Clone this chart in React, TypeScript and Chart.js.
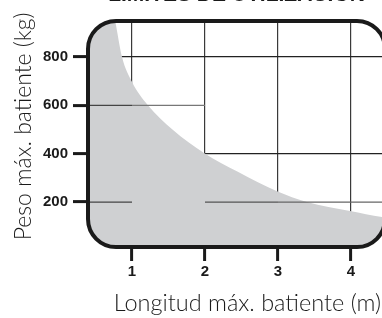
import React, { useEffect, useRef } from "react";
import { Chart, registerables } from "chart.js";

Chart.register(...registerables);

// ---- data ----
const CHART_TITLE = "LIMITES DE UTILIZACION";
const X_TITLE = "Longitud máx. batiente (m)";
const Y_TITLE = "Peso máx. batiente (kg)";

const xTicks = [1, 2, 3, 4];
const yTicks = [200, 400, 600, 800];
const fullYGrid = [400, 800];

const X_MIN = 0.397;
const X_MAX = 4.466;
const Y_MIN = 14;
const Y_MAX = 949;

// limit curve (length m -> weight kg)
const limitLength = [0.3, 0.767, 0.863, 1.0, 1.212, 1.562, 1.986, 2.45, 2.986, 3.397, 3.986, 4.425, 4.55];
const limitWeight = [1600, 953, 800, 697, 603, 498, 403, 325, 245, 200, 163, 138, 134];

// partial horizontal grid segments
const segY = [600, 600, 200, 200, 200, 200];
const segFrom = [X_MIN, 1, X_MIN, 2, 3, 4];
const segTo = [1, 2, 1, 3, 4, X_MAX];

// ---- styles ----
const DARK = "#1a1a1a";
const FILL = "#cfd0d2";
const segColors = ["#444", "#777", "#444", "#555", "#666", "#666"];
const NARROW = '"Liberation Sans Narrow", "Arial Narrow", sans-serif';
const LIGHT = 'Lato, "Open Sans", sans-serif';
const RADIUS = 28;
const SHIFT = 17;
const CW = 386;
const CH = 335;

function roundRectPath(ctx: CanvasRenderingContext2D, l: number, t: number, w: number, h: number, r: number) {
  ctx.beginPath();
  ctx.moveTo(l + r, t);
  ctx.lineTo(l + w - r, t);
  ctx.arcTo(l + w, t, l + w, t + r, r);
  ctx.lineTo(l + w, t + h - r);
  ctx.arcTo(l + w, t + h, l + w - r, t + h, r);
  ctx.lineTo(l + r, t + h);
  ctx.arcTo(l, t + h, l, t + h - r, r);
  ctx.lineTo(l, t + r);
  ctx.arcTo(l, t, l + r, t, r);
  ctx.closePath();
}

const framePlugin = {
  id: "roundFrame",
  beforeDatasetsDraw(chart: any) {
    const { ctx, chartArea: a } = chart;
    ctx.save();
    roundRectPath(ctx, a.left, a.top, a.right - a.left, a.bottom - a.top, RADIUS);
    ctx.clip();
  },
  afterDatasetsDraw(chart: any) {
    chart.ctx.restore();
  },
  afterDraw(chart: any) {
    const { ctx, chartArea: a } = chart;
    ctx.save();
    roundRectPath(ctx, a.left, a.top, a.right - a.left, a.bottom - a.top, RADIUS);
    ctx.lineWidth = 4;
    ctx.strokeStyle = DARK;
    ctx.stroke();
    ctx.restore();
    // axis titles
    ctx.save();
    ctx.fillStyle = DARK;
    ctx.textBaseline = "middle";
    ctx.font = `300 23.5px ${LIGHT}`;
    ctx.textAlign = "right";
    ctx.fillText(X_TITLE, 381, chart.height - 14.1);
    ctx.translate(24, a.top + (a.bottom - a.top) / 2 - 7.5);
    ctx.rotate(-Math.PI / 2);
    ctx.font = `300 23px ${LIGHT}`;
    ctx.textAlign = "center";
    ctx.fillText(Y_TITLE, 0, 0);
    ctx.restore();
  },
};

export default function App() {
  const ref = useRef<HTMLCanvasElement>(null);

  useEffect(() => {
    if (!ref.current) return;
    const segDatasets = segY.map((y, i) => ({
      type: "line" as const,
      data: [
        { x: segFrom[i], y },
        { x: segTo[i], y },
      ],
      borderColor: segColors[i],
      borderWidth: 1.2,
      pointRadius: 0,
      fill: false,
      order: 0,
    }));
    const chart = new Chart(ref.current, {
      type: "line",
      data: {
        datasets: [
          ...segDatasets,
          {
            data: limitLength.map((x, i) => ({ x, y: limitWeight[i] })),
            fill: "origin",
            backgroundColor: FILL,
            borderColor: "transparent",
            borderWidth: 0,
            pointRadius: 0,
            cubicInterpolationMode: "monotone",
            order: 10,
          },
        ],
      },
      options: {
        animation: false,
        responsive: false,
        events: [],
        layout: { padding: { left: 0, right: 1, top: 0, bottom: 0 } },
        plugins: {
          legend: { display: false },
          tooltip: { enabled: false },
          title: {
            display: true,
            text: CHART_TITLE,
            fullSize: false,
            color: DARK,
            font: { family: NARROW, weight: "bold", size: 21 },
            padding: { top: 0, bottom: 12.8 },
          },
        },
        scales: {
          x: {
            type: "linear",
            min: X_MIN,
            max: X_MAX,
            z: 1,
            afterBuildTicks: (s: any) => {
              s.ticks = xTicks.map((v) => ({ value: v }));
            },
            afterFit: (s: any) => {
              s.height = CH - (247 + SHIFT);
            },
            ticks: {
              color: DARK,
              font: { family: NARROW, weight: "bold", size: 15 },
              padding: 2,
              autoSkip: false,
              maxRotation: 0,
            },
            grid: {
              color: "#3a3a3a",
              lineWidth: 1.2,
              tickLength: 14,
              tickWidth: 3,
              tickColor: DARK,
            },
            border: { display: false },
            title: { display: false, text: X_TITLE },
          },
          y: {
            type: "linear",
            min: Y_MIN,
            max: Y_MAX,
            z: 1,
            afterBuildTicks: (s: any) => {
              s.ticks = yTicks.map((v) => ({ value: v }));
            },
            afterFit: (s: any) => {
              s.width = 88;
            },
            ticks: {
              color: DARK,
              font: { family: NARROW, weight: "bold", size: 15 },
              padding: 5,
            },
            grid: {
              color: (c: any) => (c.tick && fullYGrid.includes(c.tick.value) ? "#222" : "rgba(0,0,0,0)"),
              lineWidth: 1.2,
              tickLength: 15,
              tickWidth: 3,
              tickColor: DARK,
            },
            border: { display: false },
            title: { display: false, text: Y_TITLE },
          },
        },
      },
      plugins: [framePlugin],
    } as any);
    return () => chart.destroy();
  }, []);

  return (
    <div
      style={{
        position: "fixed",
        left: 0,
        top: 0,
        width: 382,
        height: 318,
        overflow: "hidden",
        background: "#fff",
      }}
    >
      <canvas
        ref={ref}
        width={CW}
        height={CH}
        style={{ position: "absolute", left: 0, top: -SHIFT, width: CW, height: CH }}
      />
    </div>
  );
}
